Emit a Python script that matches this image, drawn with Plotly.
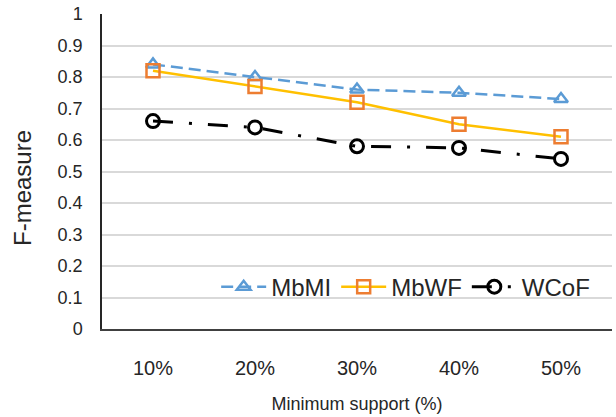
import plotly.graph_objects as go

categories = ["10%", "20%", "30%", "40%", "50%"]
mbmi = [0.84, 0.80, 0.76, 0.75, 0.73]
mbwf = [0.82, 0.77, 0.72, 0.65, 0.61]
wcof = [0.66, 0.64, 0.58, 0.575, 0.54]
y_ticks = [0, 0.1, 0.2, 0.3, 0.4, 0.5, 0.6, 0.7, 0.8, 0.9, 1]
y_tick_text = ["0", "0.1", "0.2", "0.3", "0.4", "0.5", "0.6", "0.7", "0.8", "0.9", "1"]

fig = go.Figure()
fig.add_trace(go.Scatter(
    x=categories, y=mbmi, name="MbMI", mode="lines+markers",
    line=dict(color="#5B9BD5", width=2.5, dash="12px,6px"),
    marker=dict(symbol="triangle-up-open", size=12, color="#5B9BD5", line=dict(width=2.5, color="#5B9BD5")),
))
fig.add_trace(go.Scatter(
    x=categories, y=mbwf, name="MbWF", mode="lines+markers",
    line=dict(color="#FFC000", width=2.5),
    marker=dict(symbol="square-open", size=13, color="#ED7D31", line=dict(width=2.5, color="#ED7D31")),
))
fig.add_trace(go.Scatter(
    x=categories, y=wcof, name="WCoF", mode="lines+markers",
    line=dict(color="#000000", width=3, dash="20px,16px,3px,16px"),
    marker=dict(symbol="circle-open", size=13, color="#000000", line=dict(width=3, color="#000000")),
))

fig.update_layout(
    width=616, height=417,
    margin=dict(l=102, r=4, t=14, b=88, autoexpand=False),
    paper_bgcolor="white", plot_bgcolor="white",
    font=dict(family="Liberation Sans, Arial, sans-serif", color="#404040"),
    showlegend=True,
    legend=dict(
        orientation="h", x=0.967, xanchor="right", y=0.133, yanchor="middle",
        bgcolor="rgba(0,0,0,0)", font=dict(size=24, color="#262626"),
        itemwidth=45, tracegroupgap=0,
    ),
    xaxis=dict(
        type="category", range=[-0.5, 4.5], automargin=False,
        showgrid=False, showline=True, linecolor="#404040", linewidth=1.5,
        ticks="", tickfont=dict(size=20, color="#262626"), ticklabelstandoff=20,
        title=dict(text="Minimum support (%)", font=dict(size=18, color="#262626"), standoff=20),
        zeroline=False,
    ),
    yaxis=dict(
        range=[0, 1], tickvals=y_ticks, ticktext=y_tick_text, automargin=False,
        showgrid=True, gridcolor="#D9D9D9", gridwidth=1.5,
        showline=True, linecolor="#262626", linewidth=1.5,
        ticks="", tickfont=dict(size=18, color="#262626"), ticklabelstandoff=14,
        zeroline=False,
    ),
    annotations=[dict(
        text="F-measure", xref="paper", yref="paper",
        x=(22 - 102) / 510, y=(329 - 188) / 315,
        xanchor="center", yanchor="middle", textangle=-90, showarrow=False,
        font=dict(size=24, color="#262626"),
    )],
)

fig.write_html("out.html", post_script="document.body.style.margin='0';",
               config={"displayModeBar": False})
